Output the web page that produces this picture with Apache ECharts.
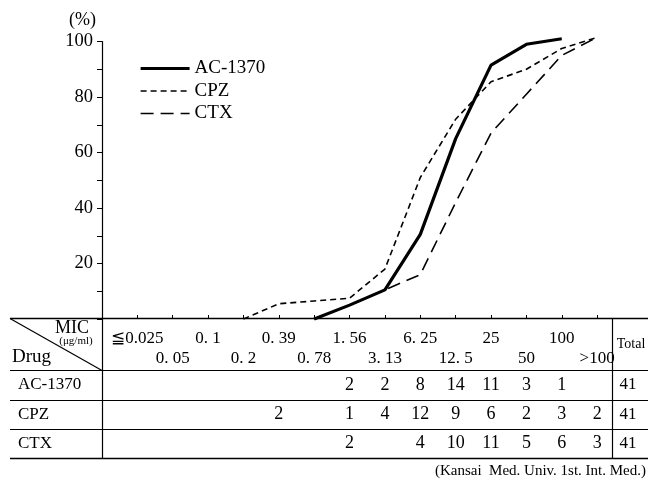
<!DOCTYPE html>
<html><head><meta charset="utf-8">
<script src="https://cdn.jsdelivr.net/npm/echarts@6/dist/echarts.min.js"></script>
<style>html,body{margin:0;padding:0;background:#fff}#c{width:650px;height:487px}</style>
</head><body><div id="c"></div>
<script>
// ---- data ----
const categories = ['≦0.025','0. 05','0. 1','0. 2','0. 39','0. 78','1. 56','3. 13','6. 25','12. 5','25','50','100','>100'];
const drugs = ['AC-1370','CPZ','CTX'];
// cumulative % curves
const acPercent  = [null,null,null,null,null,0,5,10.5,30.5,65,91.5,99,101,null];
const cpzPercent = [null,null,null,0,5.5,6.5,7.5,18,51,72,85.5,90,97.5,101.5];
const ctxPercent = [null,null,null,null,null,0,5,10.5,16,42,67,81,95,101.5];
// table counts
const acCounts  = [null,null,null,null,null,null,2,2,8,14,11,3,1,null];
const cpzCounts = [null,null,null,null,2,null,1,4,12,9,6,2,3,2];
const ctxCounts = [null,null,null,null,null,null,2,null,4,10,11,5,6,3];
const totals = [41,41,41];
const yTickLabels = [20,40,60,80,100];

const FONT = "'Liberation Serif', 'DejaVu Serif', serif";
const axisData = [''].concat(categories, ['']);
const pad = a => [null].concat(a, [null]);

const chart = echarts.init(document.getElementById('c'));
const option = {
  animation: false,
  backgroundColor: '#fff',
  grid: {left: 102, right: 17.5, top: 41.5, bottom: 168},
  legend: {
    orient: 'vertical', left: 139, top: 59, padding: 0,
    itemWidth: 49, itemHeight: 14, itemGap: 3.5,
    data: drugs,
    itemStyle: {opacity: 0},
    lineStyle: {width: 'inherit'},
    textStyle: {fontFamily: FONT, fontSize: 19, color: '#000'}
  },
  xAxis: {
    type: 'category', data: axisData, boundaryGap: false,
    axisLine: {show: false},
    axisTick: {show: true, inside: true, length: 4, interval: (i) => i < 15, lineStyle: {color: '#000'}},
    axisLabel: {
      interval: 0, margin: 10, fontFamily: FONT, fontSize: 17, color: '#000', lineHeight: 20,
      formatter: (v, i) => (i % 2 === 0 ? '\n' + v : v)
    }
  },
  yAxis: {
    type: 'value', min: 0, max: 100, interval: 10,
    axisLine: {show: true, lineStyle: {color: '#000', width: 1.2}},
    axisTick: {show: true, length: 5, lineStyle: {color: '#000'}},
    splitLine: {show: false},
    axisLabel: {margin: 9, fontFamily: FONT, fontSize: 18.5, color: '#000',
      formatter: v => (yTickLabels.includes(v) ? String(v) : '')},
    name: '(%)', nameLocation: 'end', nameGap: 12,
    nameTextStyle: {fontFamily: FONT, fontSize: 18, color: '#000', align: 'right', padding: [0, 6, 0, 0]}
  },
  series: [
    {name: 'CTX', type: 'line', data: pad(ctxPercent), symbol: 'none', clip: false,
      lineStyle: {color: '#000', width: 1.6, type: [13, 7]}, itemStyle: {color: '#000'}, z: 2},
    {name: 'CPZ', type: 'line', data: pad(cpzPercent), symbol: 'none', clip: false,
      lineStyle: {color: '#000', width: 1.6, type: [6, 4]}, itemStyle: {color: '#000'}, z: 3},
    {name: 'AC-1370', type: 'line', data: pad(acPercent), symbol: 'none', clip: false,
      lineStyle: {color: '#000', width: 3.2, type: 'solid'}, itemStyle: {color: '#000'}, z: 4}
  ]
};
chart.setOption(option);

// ---- table drawn below the axis, columns taken from the category axis ----
const xs = categories.map((c, i) => chart.convertToPixel({xAxisIndex: 0}, i + 1));
const rowY = [385, 414.5, 443.5];
const countRows = [acCounts, cpzCounts, ctxCounts];
const L = (x1, y1, x2, y2, w) => ({type: 'line', shape: {x1, y1, x2, y2}, style: {stroke: '#000', lineWidth: w || 1}, silent: true});
const T = (x, y, text, size, align, extra) => ({type: 'text', x, y, style: Object.assign({text, fontFamily: FONT, fontSize: size, fill: '#000', align: align || 'center', verticalAlign: 'middle'}, extra || {}), silent: true});
const g = [];
g.push(L(10, 318.5, 648, 318.5, 1.3));
g.push(L(10, 370.5, 648, 370.5, 1.2));
g.push(L(10, 400.5, 648, 400.5, 1));
g.push(L(10, 429.5, 648, 429.5, 1));
g.push(L(10, 458.5, 648, 458.5, 1.3));
g.push(L(102.5, 318, 102.5, 459, 1.2));
g.push(L(612.5, 318, 612.5, 459, 1.2));
g.push(L(10, 318.5, 102, 370.5, 1.2));
g.push(T(72, 328, 'MIC', 18));
g.push(T(76, 341, '(μg/ml)', 11));
g.push(T(12, 357, 'Drug', 19, 'left'));
g.push(T(631, 344, 'Total', 14));
drugs.forEach((d, r) => {
  g.push(T(18, rowY[r], d, 17, 'left'));
  countRows[r].forEach((v, i) => { if (v !== null) g.push(T(xs[i], rowY[r], String(v), 18)); });
  g.push(T(628, rowY[r], String(totals[r]), 17));
});
g.push(T(646, 471, '(Kansai  Med. Univ. 1st. Int. Med.)', 15, 'right'));
chart.setOption({graphic: {elements: g}});
</script>
</body></html>
